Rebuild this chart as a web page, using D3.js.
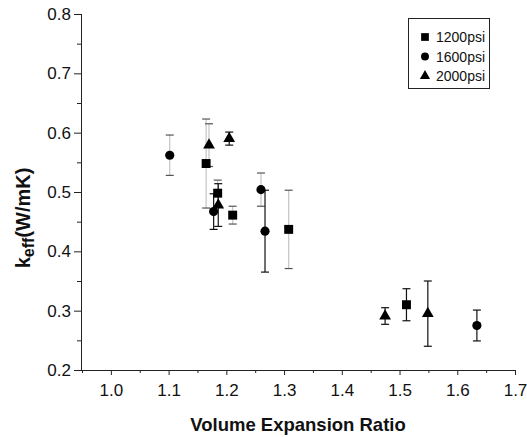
<!DOCTYPE html>
<html lang="en">
<head>
  <meta charset="UTF-8">
  <title>keff vs Volume Expansion Ratio</title>
  <style>
    body { margin: 0; background: #fff; }
    svg { display: block; font-family: "Liberation Sans", Arial, sans-serif; }
    .tick text { font-size: 17px; fill: #111; }
    .axis path, .axis line { stroke: #222; }
    .ylabel, .xlabel { font-weight: bold; fill: #111; }
    .legend text { font-size: 14px; fill: #111; }
  </style>
  <script src="https://d3js.org/d3.v7.min.js"></script>
</head>
<body>
  <svg id="chart" width="527" height="437"></svg>
  <script>
    // data
    const seriesNames = ["1200psi", "1600psi", "2000psi"];

    const x1200 = [1.165, 1.185, 1.211, 1.308, 1.512];
    const y1200 = [0.548, 0.498, 0.461, 0.437, 0.310];
    const e1200 = [0.075, 0.022, 0.015, 0.066, 0.027];

    const x1600 = [1.102, 1.178, 1.260, 1.267, 1.634];
    const y1600 = [0.562, 0.467, 0.504, 0.434, 0.275];
    const e1600 = [0.034, 0.030, 0.028, 0.069, 0.026];

    const x2000 = [1.170, 1.205, 1.186, 1.475, 1.549];
    const y2000 = [0.579, 0.590, 0.478, 0.291, 0.295];
    const e2000 = [0.036, 0.011, 0.036, 0.014, 0.055];

    const xTicks = [1.0, 1.1, 1.2, 1.3, 1.4, 1.5, 1.6, 1.7];
    const yTicks = [0.2, 0.3, 0.4, 0.5, 0.6, 0.7, 0.8];

    // which error bars are drawn light grey in the original
    const greyBars = { "1200psi": [0, 1, 2, 3], "1600psi": [0, 2], "2000psi": [0] };

    const svg = d3.select("#chart");

    const x = d3.scaleLinear().domain([0.95, 1.7]).range([82, 515]);
    const y = d3.scaleLinear().domain([0.2, 0.8]).range([370, 14]);

    const series = [
      { name: seriesNames[0], xs: x1200, ys: y1200, es: e1200, shape: d3.symbolSquare, size: 80 },
      { name: seriesNames[1], xs: x1600, ys: y1600, es: e1600, shape: d3.symbolCircle, size: 66 },
      { name: seriesNames[2], xs: x2000, ys: y2000, es: e2000, shape: d3.symbolTriangle, size: 60 }
    ];

    // minor ticks
    const xMinor = d3.range(0.95, 1.701, 0.1);
    const yMinor = d3.range(0.25, 0.8, 0.1);

    svg.append("g").attr("class", "axis")
      .attr("transform", "translate(0,370)")
      .call(d3.axisBottom(x).tickValues(xMinor).tickSize(3).tickFormat("").tickSizeOuter(0))
      .select(".domain").remove();
    svg.append("g").attr("class", "axis")
      .attr("transform", "translate(81,0)")
      .call(d3.axisLeft(y).tickValues(yMinor).tickSize(4).tickFormat("").tickSizeOuter(0))
      .select(".domain").remove();

    const gx = svg.append("g").attr("class", "axis")
      .attr("transform", "translate(0,370)")
      .call(d3.axisBottom(x).tickValues(xTicks).tickSize(5).tickPadding(9)
        .tickFormat(d3.format(".1f")).tickSizeOuter(0));
    gx.select(".domain").attr("d", "M81,0.5H515");

    const gy = svg.append("g").attr("class", "axis")
      .attr("transform", "translate(81,0)")
      .call(d3.axisLeft(y).tickValues(yTicks).tickSize(7).tickPadding(3)
        .tickFormat(d3.format(".1f")).tickSizeOuter(0));
    gy.select(".domain").attr("d", "M0.5,14V370");

    // error bars
    series.forEach(s => {
      const pts = s.xs.map((v, i) => ({ x: v, y: s.ys[i], e: s.es[i], grey: greyBars[s.name].includes(i) }));
      const g = svg.append("g");
      pts.forEach(p => {
        const cx = x(p.x);
        const stem = p.grey ? "#c4c4c4" : "#111";
        const cap = p.grey ? "#555" : "#111";
        g.append("line")
          .attr("x1", cx).attr("x2", cx)
          .attr("y1", y(p.y + p.e)).attr("y2", y(p.y - p.e))
          .attr("stroke", stem).attr("stroke-width", 1.2);
        [p.y + p.e, p.y - p.e].forEach(v => {
          g.append("line")
            .attr("x1", cx - 4).attr("x2", cx + 4)
            .attr("y1", y(v)).attr("y2", y(v))
            .attr("stroke", cap).attr("stroke-width", 1.2);
        });
      });
    });

    // markers
    series.forEach(s => {
      svg.append("g").selectAll("path")
        .data(s.xs.map((v, i) => [v, s.ys[i]]))
        .join("path")
        .attr("transform", d => `translate(${x(d[0])},${y(d[1])})`)
        .attr("d", d3.symbol().type(s.shape).size(s.size))
        .attr("fill", "#000");
    });

    // axis titles
    svg.append("text").attr("class", "xlabel")
      .attr("x", 298).attr("y", 431)
      .attr("text-anchor", "middle").style("font-size", "18.5px")
      .text("Volume Expansion Ratio");

    const yl = svg.append("text").attr("class", "ylabel")
      .attr("transform", "translate(30,218) rotate(-90)")
      .attr("text-anchor", "middle").style("font-size", "20px");
    yl.append("tspan").text("k");
    yl.append("tspan").attr("dy", 4).style("font-size", "16px").text("eff");
    yl.append("tspan").attr("dy", -4).text("(W/mK)");

    // legend
    const lg = svg.append("g").attr("class", "legend");
    lg.append("rect")
      .attr("x", 408.5).attr("y", 18.5).attr("width", 81).attr("height", 70)
      .attr("fill", "#fff").attr("stroke", "#222");
    series.forEach((s, i) => {
      const cy = 37 + i * 19.5;
      lg.append("path")
        .attr("transform", `translate(425,${cy})`)
        .attr("d", d3.symbol().type(s.shape).size(s.size * 0.75))
        .attr("fill", "#000");
      lg.append("text").attr("x", 436).attr("y", cy + 5).text(s.name);
    });
  </script>
</body>
</html>
